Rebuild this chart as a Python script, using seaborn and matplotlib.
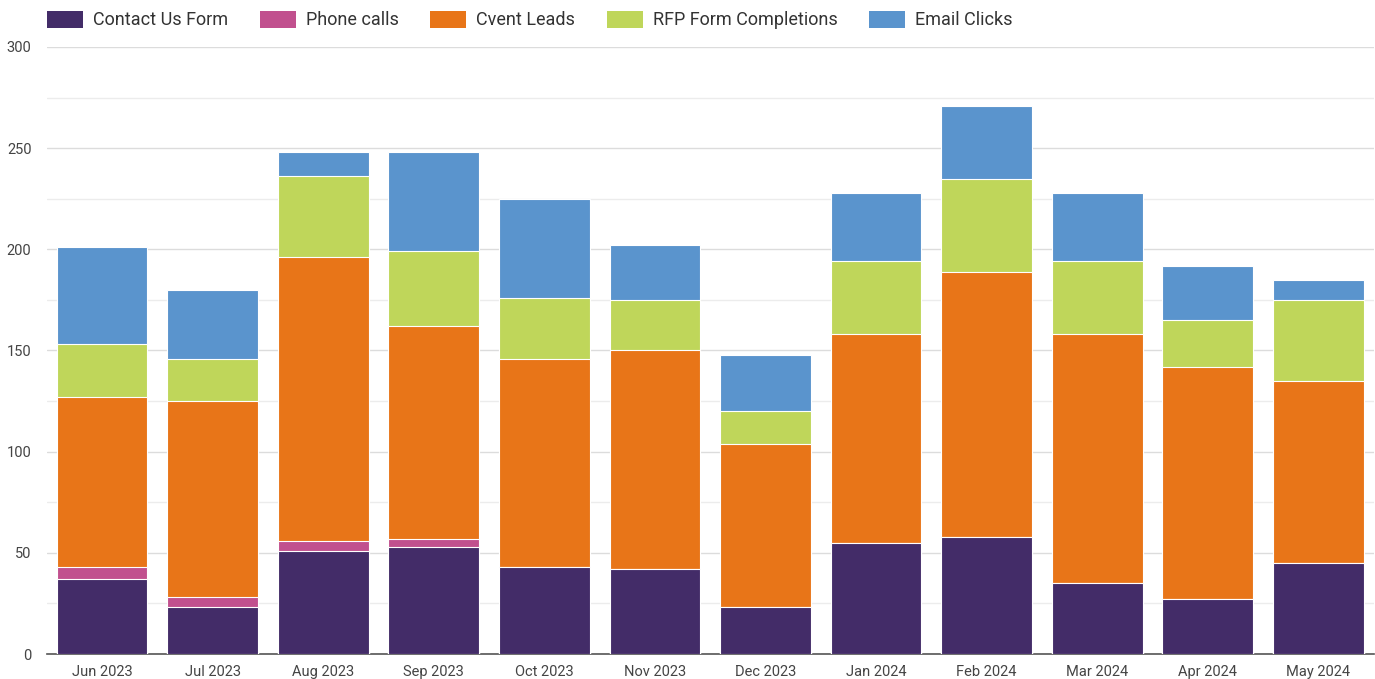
import pandas as pd
import matplotlib.pyplot as plt
import seaborn as sns
from matplotlib.patches import Patch

# Données
months = ["Jun 2023", "Jul 2023", "Aug 2023", "Sep 2023", "Oct 2023", "Nov 2023",
          "Dec 2023", "Jan 2024", "Feb 2024", "Mar 2024", "Apr 2024", "May 2024"]
contact_us = [37, 23, 51, 53, 43, 42, 23, 55, 58, 35, 27, 45]
phone_calls = [6, 5, 5, 4, 0, 0, 0, 0, 0, 0, 0, 0]
cvent_leads = [84, 97, 140, 105, 103, 108, 81, 103, 131, 123, 115, 90]
rfp_form = [26, 21, 40, 37, 30, 25, 16, 36, 46, 36, 23, 40]
email_clicks = [48, 34, 12, 49, 49, 27, 28, 34, 36, 34, 27, 10]

series = ["Contact Us Form", "Phone calls", "Cvent Leads", "RFP Form Completions", "Email Clicks"]
colors = ["#432c68", "#c1508e", "#e87518", "#bfd65a", "#5a94cd"]

df = pd.DataFrame({
    "month": months,
    "Contact Us Form": contact_us,
    "Phone calls": phone_calls,
    "Cvent Leads": cvent_leads,
    "RFP Form Completions": rfp_form,
    "Email Clicks": email_clicks,
})

# Cumul pour empiler les barres
cum = df[series].cumsum(axis=1)

sns.set_style("white")
plt.rcParams['font.family'] = ['Roboto', 'DejaVu Sans']

fig = plt.figure(figsize=(13.75, 6.79), dpi=100)
ax = fig.add_axes([0.034, 0.0368, 0.965, 0.894])

# Tracer du plus haut au plus bas pour superposer
for name, color in reversed(list(zip(series, colors))):
    sns.barplot(x=df["month"], y=cum[name], color=color, width=0.82,
                edgecolor="white", linewidth=0.8, saturation=1, ax=ax, zorder=3)

ax.set_ylim(0, 300)
ax.set_xlim(-0.5, 11.5)
ax.set_yticks(range(0, 301, 50))
ax.set_yticks(range(25, 300, 50), minor=True)
ax.grid(axis="y", which="major", color="#dcdcdc", linewidth=1, zorder=0)
ax.grid(axis="y", which="minor", color="#ececec", linewidth=1, zorder=0)
ax.set_axisbelow(True)

for s in ["top", "right", "left"]:
    ax.spines[s].set_visible(False)
ax.spines["bottom"].set_color("#555555")
ax.spines["bottom"].set_linewidth(1.2)

ax.set_xlabel("")
ax.set_ylabel("")
ax.tick_params(axis="both", which="both", length=0, labelsize=10.5, colors="#444444")
ax.tick_params(axis="y", pad=11)
ax.tick_params(axis="x", pad=8)

handles = [Patch(facecolor=c, edgecolor="none", label=s) for s, c in zip(series, colors)]
ax.legend(handles=handles, loc="center left", bbox_to_anchor=(0.0, 1.0445), ncol=5,
          frameon=False, fontsize=13, handlelength=2.0, handleheight=1.1,
          columnspacing=1.75, handletextpad=0.55, borderaxespad=0, borderpad=0)
for t in ax.get_legend().get_texts():
    t.set_color("#333333")

plt.savefig("out.png")
